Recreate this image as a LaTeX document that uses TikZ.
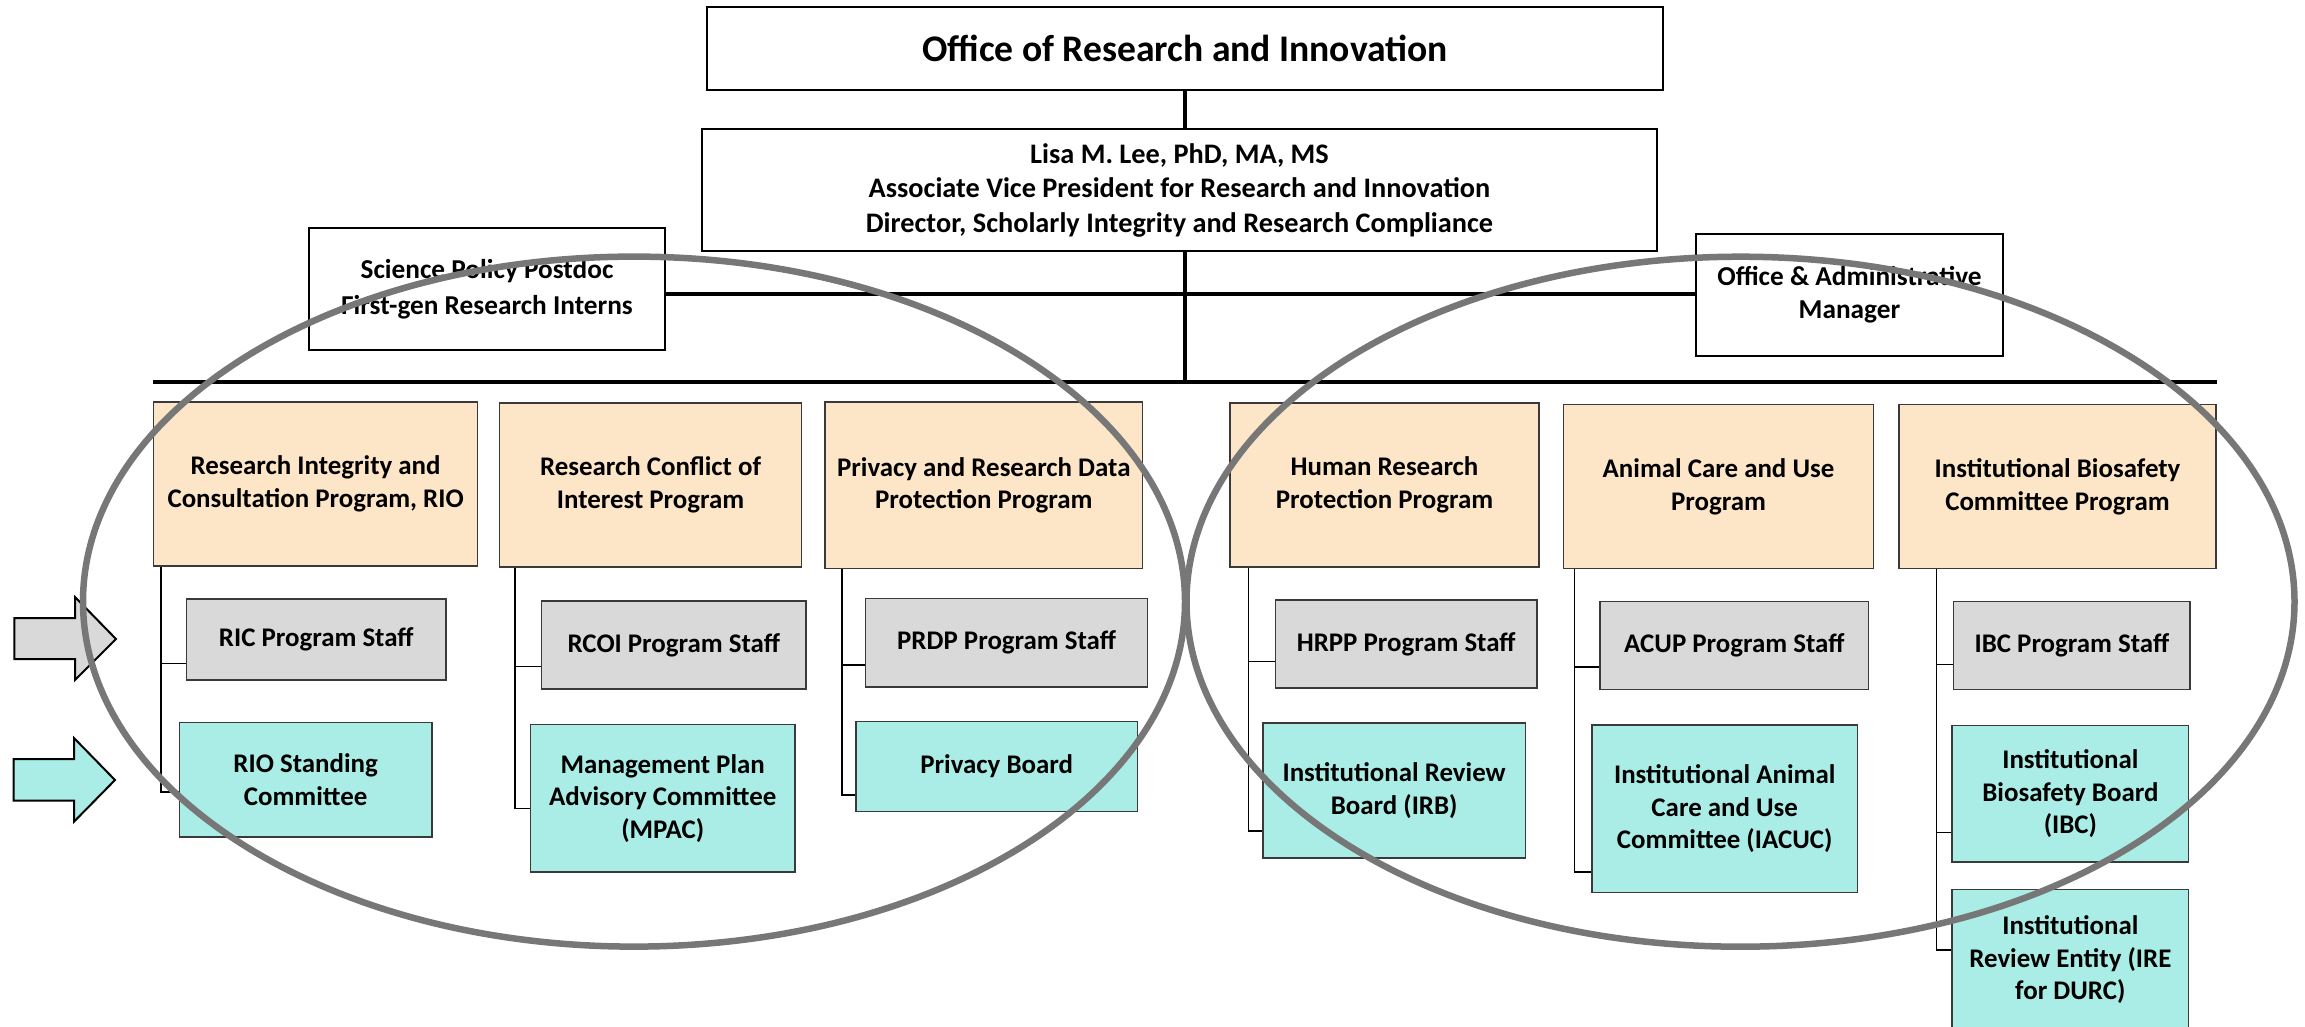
\documentclass[tikz,border=0pt]{standalone}
\usepackage{fontspec}
\setmainfont{Carlito}
\definecolor{peach}{HTML}{FDE6C8}
\definecolor{tealfill}{HTML}{AAEDE6}
\definecolor{grayfill}{HTML}{D9D9D9}
\definecolor{ringgray}{HTML}{777777}
\definecolor{edge}{HTML}{3A3A3A}
\begin{document}
\begin{tikzpicture}[x=1pt,y=-1pt,
  topbox/.style={draw=black, line width=1.8pt, fill=white, inner sep=0pt, align=center,
    font=\fontsize{27.3}{33}\selectfont\bfseries},
  prog/.style={draw=edge, line width=1.5pt, fill=peach, inner sep=0pt, align=center,
    font=\fontsize{26.9}{32.5}\selectfont\bfseries},
  staff/.style={prog, fill=grayfill},
  comm/.style={prog, fill=tealfill},
  thin/.style={draw=black, line width=1.2pt},
  bus/.style={draw=black, line width=3.2pt},
  ring/.style={draw=ringgray, line width=6.5pt},
  bigarrow/.style={draw=black, line width=2pt, line join=miter}
]
\useasboundingbox (0,0) rectangle (2305,1026);

% top boxes
\node[topbox, minimum width=956pt, minimum height=83pt, font=\fontsize{37.6}{44}\selectfont\bfseries] (title) at (1185,48.5) {Office of Research and Innovation};
\node[topbox, minimum width=955pt, minimum height=122pt, font=\fontsize{28.3}{34.5}\selectfont\bfseries] (lisa) at (1179.5,190) {Lisa M. Lee, PhD, MA, MS\\Associate Vice President for Research and Innovation\\Director, Scholarly Integrity and Research Compliance};
\node[topbox, minimum width=356pt, minimum height=122pt, font=\fontsize{27.3}{36.5}\selectfont\bfseries] (sci) at (487,289) {Science Policy Postdoc\\First-gen Research Interns};
\node[topbox, minimum width=307pt, minimum height=122pt] (office) at (1849.5,295) {Office \& Administrative\\Manager};

% bus coordinates
\coordinate (hl) at (1185,294);
\coordinate (busL) at (153,382);
\coordinate (busR) at (2217,382);

\draw[bus] (title.south) -- (title.south |- lisa.north);
\draw[bus] (title.south |- lisa.south) -- (title.south |- busL);
\draw[bus] (sci.east |- hl) -- (office.west |- hl);
\draw[bus] (busL) -- (busR);

% program boxes
\node[prog, minimum width=324pt, minimum height=164pt] (O1) at (315.6,484) {Research Integrity and\\Consultation Program, RIO};
\node[prog, minimum width=302pt, minimum height=164pt] (O2) at (650.6,485) {Research Conflict of\\Interest Program};
\node[prog, minimum width=317.6pt, minimum height=166.7pt] (O3) at (983.8,485.3) {Privacy and Research Data\\Protection Program};
\node[prog, minimum width=309pt, minimum height=164pt] (O4) at (1384.5,484.8) {Human Research\\Protection Program};
\node[prog, minimum width=310pt, minimum height=164pt] (O5) at (1718.5,486.7) {Animal Care and Use\\Program};
\node[prog, minimum width=317pt, minimum height=164pt] (O6) at (2057.5,486.7) {Institutional Biosafety\\Committee Program};

% staff boxes
\node[staff, minimum width=259.4pt, minimum height=81.2pt] (G1) at (316.3,639.4) {RIC Program Staff};
\node[staff, minimum width=264.5pt, minimum height=88.2pt] (G2) at (673.75,644.9) {RCOI Program Staff};
\node[staff, minimum width=282.2pt, minimum height=88.6pt] (G3) at (1006.6,642.7) {PRDP Program Staff};
\node[staff, minimum width=261.6pt, minimum height=88.2pt] (G4) at (1406.2,644.1) {HRPP Program Staff};
\node[staff, minimum width=268.2pt, minimum height=87.7pt] (G5) at (1734.3,645.5) {ACUP Program Staff};
\node[staff, minimum width=236.6pt, minimum height=88.1pt] (G6) at (2071.9,645.3) {IBC Program Staff};

% committee boxes
\node[comm, minimum width=252.7pt, minimum height=114.6pt] (T1) at (305.65,779.7) {RIO Standing\\Committee};
\node[comm, minimum width=264.5pt, minimum height=147.5pt] (T2) at (662.75,798.25) {Management Plan\\Advisory Committee\\(MPAC)};
\node[comm, minimum width=281.4pt, minimum height=89.8pt] (T3) at (996.7,766.5) {Privacy Board};
\node[comm, minimum width=262.3pt, minimum height=134.8pt] (T4) at (1394.15,790.6) {Institutional Review\\Board (IRB)};
\node[comm, minimum width=265.4pt, minimum height=167.7pt] (T5) at (1724.7,808.75) {Institutional Animal\\Care and Use\\Committee (IACUC)};
\node[comm, minimum width=236.7pt, minimum height=136.7pt] (T6) at (2070.35,793.65) {Institutional\\Biosafety Board\\(IBC)};
\node[comm, minimum width=236.7pt, minimum height=140.6pt] (T7) at (2070.35,960) {Institutional\\Review Entity (IRE\\for DURC)};

% column connectors
\coordinate (c1) at (161,0);
\coordinate (c2) at (515,0);
\coordinate (c3) at (842,0);
\coordinate (c4) at (1248.3,0);
\coordinate (c5) at (1574.5,0);
\coordinate (c6) at (1936.7,0);

\coordinate (g1s) at ([yshift=-24.1pt]G1.west);
\coordinate (g2s) at ([yshift=-21.9pt]G2.west);
\coordinate (g3s) at ([yshift=-22.3pt]G3.west);
\coordinate (g4s) at ([yshift=-17.7pt]G4.west);
\coordinate (g5s) at ([yshift=-21.5pt]G5.west);
\coordinate (g6s) at ([yshift=-19pt]G6.west);
\coordinate (t1s) at ([yshift=-12.3pt]T1.west);
\coordinate (t2s) at ([yshift=-10.25pt]T2.west);
\coordinate (t3s) at ([yshift=-28.5pt]T3.west);
\coordinate (t4s) at ([yshift=-40.4pt]T4.west);
\coordinate (t5s) at ([yshift=-63.25pt]T5.west);
\coordinate (t6s) at ([yshift=-38.75pt]T6.west);
\coordinate (t7s) at ([yshift=10pt]T7.west);

\draw[thin] (O1.south -| c1) |- (t1s);
\draw[thin] (c1 |- g1s) -- (g1s);
\draw[thin] (O2.south -| c2) |- (t2s);
\draw[thin] (c2 |- g2s) -- (g2s);
\draw[thin] (O3.south -| c3) |- (t3s);
\draw[thin] (c3 |- g3s) -- (g3s);
\draw[thin] (O4.south -| c4) |- (t4s);
\draw[thin] (c4 |- g4s) -- (g4s);
\draw[thin] (O5.south -| c5) |- (t5s);
\draw[thin] (c5 |- g5s) -- (g5s);
\draw[thin] (O6.south -| c6) |- (t7s);
\draw[thin] (c6 |- g6s) -- (g6s);
\draw[thin] (c6 |- t6s) -- (t6s);

% legend arrows
\draw[bigarrow, fill=grayfill] (14.3,618) -- (75,618) -- (75,597) -- (116,639) -- (75,680) -- (75,659) -- (14.3,659) -- cycle;
\draw[bigarrow, fill=tealfill] (13.5,759) -- (74,759) -- (74,738) -- (115,780) -- (74,821.7) -- (74,800.7) -- (13.5,800.7) -- cycle;

% ellipses
\draw[ring] (634,601.6) ellipse [x radius=551, y radius=345];
\draw[ring] (1740.5,601.7) ellipse [x radius=554, y radius=345];
\end{tikzpicture}
\end{document}
